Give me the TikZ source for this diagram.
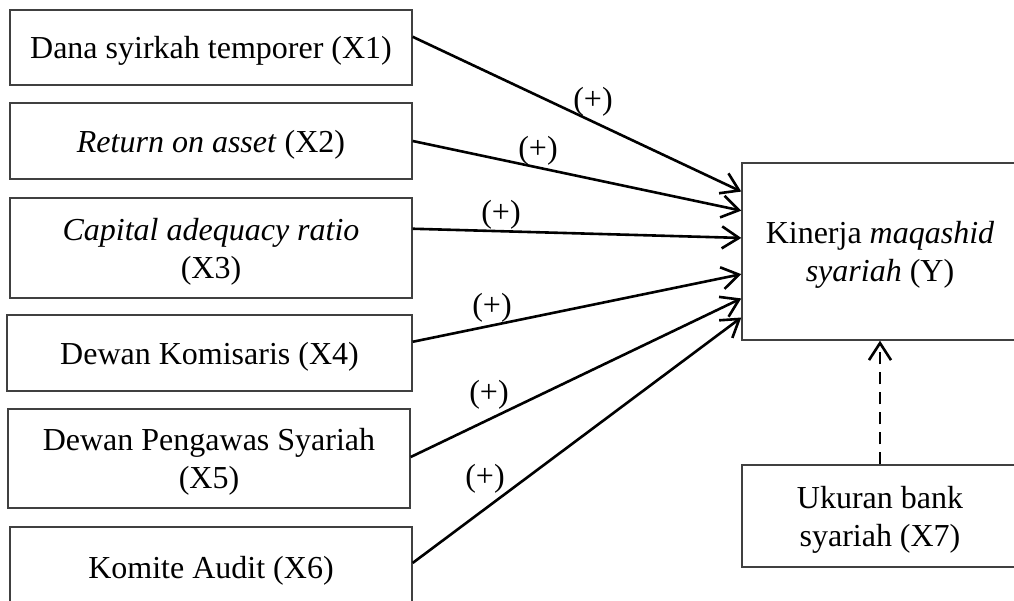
\documentclass[tikz,border=0pt]{standalone}
\usepackage{fontspec}
\setmainfont{Liberation Serif}
\usetikzlibrary{arrows.meta,calc}
\begin{document}
\begin{tikzpicture}[x=1pt,y=-1pt,
  box/.style={draw=black!75,line width=1.4pt,rectangle,align=center,inner sep=0pt,
    text depth=0pt,font=\fontsize{32}{38}\selectfont},
  tipv/.style={-{Straight Barb[length=17pt,width=22pt,line width=2.6pt]}},
  conn/.style={line width=2.6pt,tipv},
  sign/.style={font=\fontsize{32}{36}\selectfont,inner sep=0pt}]
\useasboundingbox (0,0) rectangle (1014,600);
\clip (0,0) rectangle (1014,600);
\node[box,minimum width=402pt,minimum height=75pt] (x1) at (211,47.5) {Dana syirkah temporer (X1)};
\node[box,minimum width=402pt,minimum height=76pt] (x2) at (211,141) {\textit{Return on asset} (X2)};
\node[box,minimum width=402pt,minimum height=100pt] (x3) at (211,248) {\textit{Capital adequacy ratio}\\(X3)};
\node[box,minimum width=405pt,minimum height=76pt] (x4) at (209.5,353) {Dewan Komisaris (X4)};
\node[box,minimum width=402pt,minimum height=99pt] (x5) at (209,458.5) {Dewan Pengawas Syariah\\(X5)};
\node[box,minimum width=402pt,minimum height=80pt] (x6) at (211,567) {Komite Audit (X6)};
\node[box,minimum width=276pt,minimum height=177pt] (y) at (880,251.5) {Kinerja \textit{maqashid}\\\textit{syariah} (Y)};
\node[box,minimum width=276pt,minimum height=102pt] (x7) at (880,516) {Ukuran bank\\syariah (X7)};

\draw[conn] ($(x1.north east)!0.36!(x1.south east)$) -- ($(y.north west)!0.164!(y.south west)$);
\draw[conn] (x2.east) -- ($(y.north west)!0.271!(y.south west)$);
\draw[conn] ($(x3.north east)!0.31!(x3.south east)$) -- ($(y.north west)!0.424!(y.south west)$);
\draw[conn] ($(x4.north east)!0.355!(x4.south east)$) -- ($(y.north west)!0.627!(y.south west)$);
\draw[conn] ($(x5.north east)!0.485!(x5.south east)$) -- ($(y.north west)!0.763!(y.south west)$);
\draw[conn] ($(x6.north east)!0.45!(x6.south east)$) -- ($(y.north west)!0.870!(y.south west)$);
\draw[conn,dash pattern=on 12pt off 8pt] (x7.north) -- (y.south);

\node[sign] (s1) at (593,102) {(+)};
\node[sign] (s2) at (538,151) {(+)};
\node[sign] (s3) at (501,215) {(+)};
\node[sign] (s4) at (492,308) {(+)};
\node[sign] (s5) at (489,395) {(+)};
\node[sign] (s6) at (485,479) {(+)};
\end{tikzpicture}
\end{document}
